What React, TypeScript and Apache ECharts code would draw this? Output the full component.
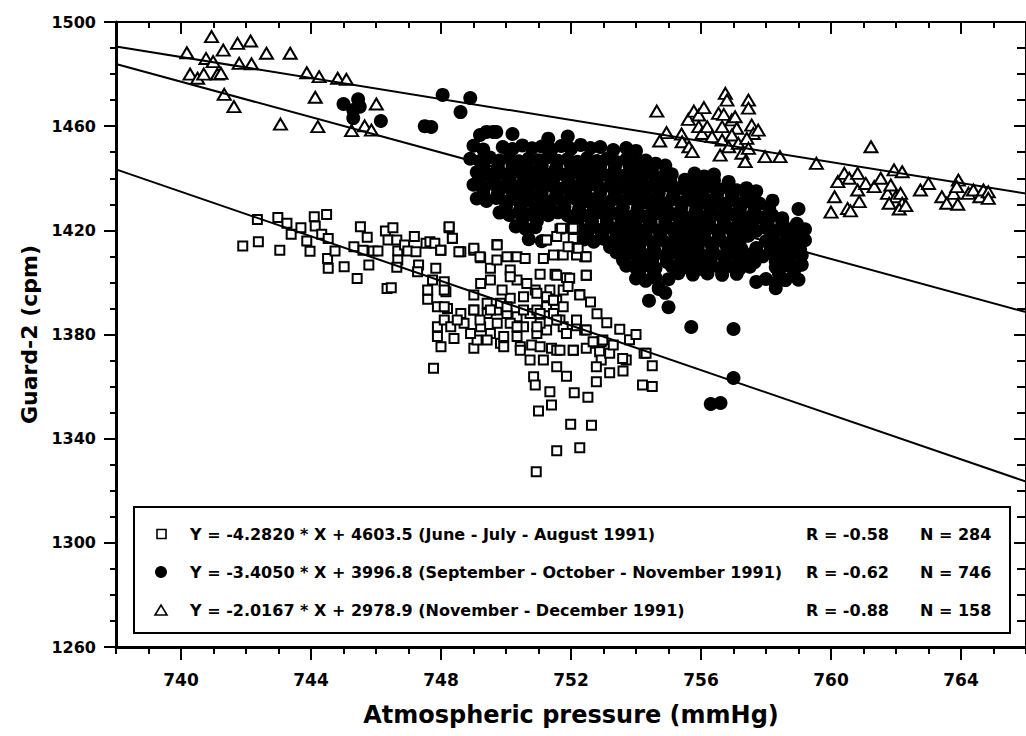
import React, { useEffect, useRef } from "react";
import * as echarts from "echarts";

// ---- axis ticks / labels ----
const xMajorTicks = [740, 744, 748, 752, 756, 760, 764];
const yMajorTicks = [1260, 1300, 1340, 1380, 1420, 1460, 1500];
const xName = "Atmospheric pressure (mmHg)";
const yName = "Guard-2 (cpm)";

// ---- June - July - August 1991 (open squares) ----
const squarePoints: number[][] = [
  [741.9, 1414.0], [742.38, 1415.6], [742.35, 1424.2], [742.98, 1424.9], [743.04, 1412.4], [743.26, 1422.7],
  [743.39, 1418.5], [743.69, 1421.0], [743.87, 1415.9], [743.97, 1412.0], [744.1, 1425.2], [744.13, 1421.7],
  [744.33, 1418.5], [744.48, 1426.1], [744.53, 1416.9], [744.51, 1409.2], [744.53, 1405.4], [744.74, 1412.1],
  [745.02, 1406.0], [745.32, 1413.7], [745.42, 1401.5], [745.52, 1421.4], [745.6, 1412.4], [745.73, 1417.3],
  [745.78, 1406.7], [745.91, 1412.1], [746.06, 1412.1], [746.34, 1397.7], [746.47, 1398.0], [746.29, 1419.7],
  [746.52, 1421.0], [746.37, 1416.3], [746.64, 1416.3], [746.67, 1412.1], [746.67, 1408.6], [746.64, 1405.8],
  [746.88, 1414.4], [746.98, 1412.1], [747.18, 1417.6], [747.23, 1411.8], [747.31, 1406.7], [747.28, 1404.1],
  [747.54, 1415.0], [747.66, 1415.6], [747.81, 1415.0], [747.84, 1405.4], [747.74, 1400.9], [748.0, 1412.4],
  [748.1, 1400.3], [748.15, 1396.4], [748.25, 1421.0], [748.35, 1416.9], [748.61, 1411.8], [749.01, 1412.4],
  [749.22, 1409.5], [749.72, 1414.6], [749.52, 1405.4], [749.72, 1408.6], [750.13, 1404.8], [750.34, 1409.9],
  [750.59, 1409.2], [751.15, 1409.2], [751.2, 1416.3], [751.66, 1420.5], [752.12, 1421.0], [752.07, 1416.9],
  [752.42, 1409.9], [751.46, 1410.5], [751.76, 1410.5], [752.17, 1410.5], [751.05, 1403.1], [751.51, 1403.1],
  [751.86, 1401.8], [752.47, 1402.8], [752.27, 1395.4], [751.76, 1397.1], [751.35, 1397.1], [750.9, 1397.1],
  [750.54, 1394.5], [750.13, 1393.9], [749.88, 1397.1], [749.52, 1400.9], [749.22, 1399.6], [749.01, 1395.2],
  [747.59, 1393.5], [747.89, 1390.7], [748.2, 1390.0], [748.61, 1388.1], [749.01, 1389.4], [749.42, 1388.1],
  [749.72, 1389.4], [750.03, 1388.1], [750.34, 1386.8], [750.74, 1388.1], [750.95, 1389.4], [751.25, 1390.7],
  [751.46, 1388.1], [751.66, 1385.6], [751.76, 1383.0], [752.17, 1383.4], [752.42, 1381.7], [752.78, 1376.6],
  [752.93, 1377.2], [752.88, 1373.4], [752.93, 1370.2], [752.78, 1367.6], [753.19, 1365.3], [752.78, 1361.9],
  [753.7, 1370.2], [754.25, 1372.8], [754.2, 1360.6], [752.47, 1374.7], [752.07, 1374.0], [751.4, 1374.7],
  [751.56, 1374.0], [751.15, 1370.2], [750.74, 1370.2], [750.85, 1363.8], [750.9, 1360.6], [751.35, 1358.0],
  [751.4, 1352.9], [751.0, 1350.6], [751.56, 1367.6], [751.86, 1364.0], [752.1, 1357.6], [752.52, 1355.9],
  [751.99, 1345.5], [752.63, 1345.2], [751.56, 1335.4], [752.27, 1336.5], [750.93, 1327.3], [747.77, 1367.0],
  [747.89, 1383.0], [747.89, 1379.2], [748.0, 1375.3], [748.4, 1378.5], [749.01, 1374.7], [749.11, 1377.9],
  [749.52, 1380.4], [749.83, 1376.6], [749.93, 1379.2], [750.34, 1379.2], [750.44, 1375.3], [750.79, 1376.0],
  [750.95, 1380.4], [747.59, 1397.1], [748.1, 1385.6], [748.3, 1383.0], [748.71, 1384.3], [749.22, 1383.0],
  [749.42, 1392.0], [749.83, 1392.0], [750.13, 1384.3], [750.54, 1383.0], [751.25, 1381.7], [751.86, 1380.4],
  [750.34, 1400.9], [750.64, 1399.6], [750.95, 1395.8], [751.25, 1394.5], [751.56, 1393.2], [751.76, 1390.7],
  [751.05, 1384.3], [748.25, 1421.4], [748.35, 1417.0], [747.99, 1412.4], [748.55, 1411.8], [749.01, 1413.1],
  [749.2, 1409.9], [749.73, 1414.4], [750.03, 1409.9], [751.25, 1416.3], [751.56, 1417.6], [751.71, 1420.8],
  [752.07, 1420.8], [751.91, 1413.7], [752.22, 1413.1], [752.47, 1409.9], [752.47, 1402.8], [752.27, 1395.2],
  [751.96, 1401.6], [751.56, 1402.8], [750.13, 1402.2], [751.46, 1393.2], [751.91, 1398.4], [752.17, 1385.6],
  [752.47, 1381.7], [752.68, 1377.2], [752.07, 1374.0], [751.66, 1374.0], [751.05, 1375.3], [750.44, 1374.0],
  [749.93, 1375.3], [749.42, 1377.9], [748.91, 1380.4], [748.5, 1385.6], [748.1, 1390.7], [748.1, 1397.1],
  [749.01, 1389.4], [749.52, 1389.4], [750.03, 1390.7], [750.54, 1389.4], [751.05, 1388.1], [751.56, 1385.6],
  [750.95, 1383.0], [750.34, 1383.0], [749.73, 1384.3], [749.2, 1385.6], [754.31, 1372.8], [753.59, 1370.8],
  [753.19, 1372.8], [752.98, 1377.9], [754.5, 1368.0], [754.5, 1360.0], [753.6, 1366.0], [753.3, 1376.0],
  [753.8, 1378.0], [753.5, 1382.0], [754.0, 1380.0], [753.1, 1384.5], [752.8, 1388.0], [752.6, 1392.5],
];

// ---- September - October - November 1991 (filled circles) ----
const circlePoints: number[][] = [
  [745.0, 1468.5], [745.45, 1470.3], [745.3, 1466.2], [745.3, 1463.1], [745.5, 1467.5], [746.15, 1462.0],
  [747.5, 1460.0], [747.7, 1459.7], [748.05, 1472.0], [748.9, 1470.8], [748.6, 1465.4], [749.2, 1456.6],
  [749.4, 1457.8], [749.7, 1457.8], [750.2, 1457.0],
  [749.6, 1457.8], [751.3, 1455.2], [751.9, 1456.0],
  [749.0, 1452.5], [749.3, 1451.0], [749.9, 1452.0], [750.2, 1451.2], [750.5, 1452.6], [750.8, 1451.5],
  [751.1, 1452.2], [751.4, 1451.0], [751.7, 1452.4], [752.0, 1451.3], [752.3, 1452.8], [752.6, 1451.6],
  [752.9, 1452.0], [753.3, 1450.8], [753.7, 1451.6], [754.0, 1450.5],
  [748.9, 1447.5], [749.2, 1446.6], [749.5, 1448.0], [749.8, 1446.8], [750.1, 1447.9], [750.4, 1446.5],
  [750.7, 1447.6], [751.0, 1446.9], [751.3, 1448.1], [751.6, 1446.7], [751.9, 1447.4], [752.2, 1446.3],
  [752.5, 1447.8], [752.8, 1446.6], [753.1, 1447.5], [753.4, 1446.2], [753.7, 1447.3], [754.0, 1446.0],
  [754.3, 1446.8], [754.6, 1445.6], [754.9, 1444.9],
  [749.3, 1444.6], [749.75, 1444.2], [750.2, 1444.8], [750.65, 1444.1], [751.1, 1444.7], [751.55, 1444.3],
  [752.0, 1444.9], [752.45, 1444.0], [752.9, 1444.6], [753.35, 1444.2], [753.8, 1444.7], [754.25, 1443.9],
  [749.1, 1442.3], [749.4, 1441.5], [749.7, 1442.6], [750.0, 1441.4], [750.3, 1442.5], [750.6, 1441.2],
  [750.9, 1442.4], [751.2, 1441.6], [751.5, 1442.8], [751.8, 1441.3], [752.1, 1442.2], [752.4, 1441.0],
  [752.7, 1442.5], [753.0, 1441.4], [753.3, 1442.1], [753.6, 1440.9], [753.9, 1442.0], [754.2, 1441.1],
  [754.5, 1441.9], [754.8, 1440.6], [755.1, 1441.5], [755.8, 1441.8], [756.1, 1440.7], [756.4, 1441.4],
  [749.2, 1439.6], [749.65, 1439.2], [750.1, 1439.8], [750.55, 1439.1], [751.0, 1439.7], [751.45, 1439.3],
  [751.9, 1439.9], [752.35, 1439.0], [752.8, 1439.6], [753.25, 1439.2], [753.7, 1439.7], [754.15, 1439.0],
  [754.6, 1439.5], [755.05, 1438.9], [755.5, 1439.4], [755.95, 1438.8], [756.4, 1439.2], [756.85, 1438.6],
  [749.0, 1437.5], [749.3, 1436.4], [749.6, 1437.8], [749.9, 1436.6], [750.2, 1437.4], [750.5, 1436.2],
  [750.8, 1437.6], [751.1, 1436.5], [751.4, 1437.2], [751.7, 1436.0], [752.0, 1437.3], [752.3, 1436.4],
  [752.6, 1437.6], [752.9, 1436.1], [753.2, 1437.0], [753.5, 1436.3], [753.8, 1437.4], [754.1, 1436.0],
  [754.4, 1436.9], [754.7, 1435.8], [755.0, 1437.1], [755.3, 1436.2], [755.6, 1437.3], [755.9, 1436.1],
  [756.2, 1436.8], [756.5, 1435.9], [756.8, 1436.5], [757.1, 1435.4], [757.4, 1436.2], [757.7, 1435.0],
  [749.3, 1434.5], [749.75, 1434.1], [750.2, 1434.6], [750.65, 1434.0], [751.1, 1434.4], [751.55, 1433.9],
  [752.0, 1434.6], [752.45, 1434.0], [752.9, 1434.3], [753.35, 1433.8], [753.8, 1434.5], [754.25, 1433.7],
  [754.7, 1434.2], [755.15, 1433.6], [755.6, 1434.1], [756.05, 1433.5], [756.5, 1434.0], [756.95, 1433.4],
  [757.4, 1433.8],
  [749.1, 1432.2], [749.4, 1431.3], [749.7, 1432.4], [750.0, 1431.1], [750.3, 1432.0], [750.6, 1431.4],
  [750.9, 1432.6], [751.2, 1431.2], [751.5, 1432.1], [751.8, 1430.9], [752.1, 1432.3], [752.4, 1431.0],
  [752.7, 1431.8], [753.0, 1430.8], [753.3, 1432.0], [753.6, 1431.2], [753.9, 1432.2], [754.2, 1430.9],
  [754.5, 1431.7], [754.8, 1430.6], [755.1, 1431.9], [755.4, 1430.7], [755.7, 1431.6], [756.0, 1430.4],
  [756.3, 1431.5], [756.6, 1430.6], [756.9, 1431.3], [757.2, 1430.2], [757.5, 1431.0], [757.8, 1430.3],
  [758.2, 1431.4],
  [750.0, 1429.2], [750.45, 1428.7], [750.9, 1429.3], [751.35, 1428.6], [751.8, 1429.1], [752.25, 1428.5],
  [752.7, 1429.0], [753.15, 1428.4], [753.6, 1428.9], [754.05, 1428.3], [754.5, 1428.8], [754.95, 1428.2],
  [755.4, 1428.7], [755.85, 1428.1], [756.3, 1428.6], [756.75, 1428.0], [757.2, 1428.5], [757.65, 1427.9],
  [758.1, 1428.3],
  [749.8, 1426.8], [750.1, 1425.9], [750.4, 1427.0], [750.7, 1426.2], [751.0, 1427.1], [751.3, 1425.8],
  [751.6, 1426.9], [751.9, 1425.7], [752.2, 1426.6], [752.5, 1425.5], [752.8, 1426.8], [753.1, 1425.6],
  [753.4, 1426.5], [753.7, 1425.4], [754.0, 1426.3], [754.3, 1425.2], [754.6, 1426.4], [754.9, 1425.3],
  [755.2, 1426.1], [755.5, 1425.0], [755.8, 1426.2], [756.1, 1425.1], [756.4, 1426.0], [756.7, 1424.9],
  [757.0, 1426.1], [757.3, 1425.2], [757.6, 1426.0], [757.9, 1424.8], [758.2, 1425.7], [758.5, 1424.6],
  [759.0, 1428.2],
  [750.5, 1423.9], [750.95, 1423.5], [752.2, 1423.8], [752.65, 1423.2], [753.1, 1423.7], [753.55, 1423.1],
  [754.0, 1423.6], [754.45, 1423.0], [754.9, 1423.5], [755.35, 1422.9], [755.8, 1423.4], [756.25, 1422.8],
  [756.7, 1423.3], [757.15, 1422.7], [757.6, 1423.2], [758.05, 1422.6], [758.5, 1423.0], [758.95, 1422.5],
  [750.3, 1421.5], [750.6, 1420.6], [750.9, 1421.2], [752.0, 1421.0], [752.3, 1420.3], [752.6, 1421.4],
  [752.9, 1420.1], [753.2, 1421.2], [753.5, 1420.4], [753.8, 1421.5], [754.1, 1420.2], [754.4, 1421.3],
  [754.7, 1420.0], [755.0, 1421.1], [755.3, 1420.3], [755.6, 1421.4], [755.9, 1420.1], [756.2, 1421.0],
  [756.5, 1419.9], [756.8, 1421.2], [757.1, 1420.0], [757.4, 1421.0], [757.7, 1419.8], [758.0, 1420.9],
  [758.3, 1419.7], [758.6, 1420.8], [758.9, 1419.6], [759.2, 1420.4],
  [752.5, 1418.7], [752.95, 1418.2], [753.4, 1418.8], [753.85, 1418.1], [754.3, 1418.6], [754.75, 1418.0],
  [755.2, 1418.5], [755.65, 1417.9], [756.1, 1418.4], [756.55, 1417.8], [757.0, 1418.3], [757.45, 1417.9],
  [758.2, 1418.2], [758.65, 1417.7], [759.1, 1418.1],
  [750.7, 1416.6], [751.1, 1415.8], [752.4, 1416.5], [752.7, 1415.6], [753.0, 1416.8], [753.3, 1415.5],
  [753.6, 1416.4], [753.9, 1415.3], [754.2, 1416.6], [754.5, 1415.4], [754.8, 1416.3], [755.1, 1415.2],
  [755.4, 1416.5], [755.7, 1415.1], [756.0, 1416.2], [756.3, 1415.0], [756.6, 1416.1], [756.9, 1415.3],
  [757.2, 1416.0], [758.0, 1415.8], [758.3, 1414.9], [758.6, 1416.0], [758.9, 1415.1], [759.2, 1416.2],
  [753.2, 1413.6], [753.65, 1413.1], [754.1, 1413.7], [754.55, 1413.0], [755.0, 1413.5], [755.45, 1412.9],
  [755.9, 1413.4], [756.35, 1412.8], [756.8, 1413.3], [757.25, 1412.7], [757.7, 1413.2], [758.15, 1412.6],
  [758.6, 1413.1], [759.05, 1412.5],
  [753.4, 1411.5], [753.7, 1410.6], [754.0, 1411.6], [754.3, 1410.4], [754.6, 1411.3], [754.9, 1410.2],
  [755.2, 1411.4], [755.5, 1410.3], [755.8, 1411.2], [756.1, 1410.1], [756.4, 1411.0], [756.7, 1410.0],
  [757.0, 1411.3], [757.3, 1410.2], [757.6, 1411.1], [757.9, 1410.0], [758.2, 1411.0], [758.5, 1410.1],
  [758.8, 1411.2], [759.1, 1410.4],
  [753.6, 1408.5], [754.05, 1408.0], [754.5, 1408.6], [754.95, 1407.9], [755.4, 1408.4], [755.85, 1407.8],
  [756.3, 1408.3], [756.75, 1407.7], [757.2, 1408.2], [757.65, 1407.8], [758.3, 1408.1], [758.75, 1407.6],
  [753.7, 1406.4], [754.0, 1405.5], [754.3, 1406.6], [754.6, 1405.4], [755.1, 1406.2], [755.4, 1405.3],
  [755.7, 1406.4], [756.0, 1405.2], [756.3, 1406.1], [756.6, 1405.5], [756.9, 1406.3], [757.2, 1405.4],
  [757.5, 1406.0], [758.3, 1405.8], [758.6, 1406.5], [758.9, 1405.4], [759.1, 1406.8],
  [754.1, 1403.6], [754.55, 1403.2], [755.3, 1403.5], [755.75, 1403.0], [756.2, 1403.4], [756.65, 1402.9],
  [757.1, 1403.3], [758.4, 1403.2], [758.85, 1402.8],
  [754.0, 1401.5], [754.3, 1400.6], [754.6, 1401.8], [755.0, 1401.2], [757.7, 1400.2], [758.0, 1401.3],
  [758.3, 1399.8], [758.6, 1400.9], [759.0, 1401.0],
  [754.7, 1397.5], [758.3, 1397.8], [754.4, 1393.0], [754.7, 1398.0], [754.9, 1396.0], [755.0, 1390.5],
  [755.7, 1382.9], [757.0, 1382.1], [756.3, 1353.3], [756.6, 1353.7], [757.0, 1363.3],
];

// ---- November - December 1991 (open triangles) ----
const trianglePoints: number[][] = [
  [740.18, 1488.2], [740.94, 1494.4], [740.77, 1486.0], [740.99, 1484.8], [741.3, 1489.2], [741.74, 1491.8],
  [742.14, 1492.7], [741.79, 1484.1], [742.17, 1483.9], [742.63, 1488.0], [743.36, 1488.0], [740.28, 1480.0],
  [740.51, 1478.4], [740.7, 1480.0], [741.12, 1480.0], [741.23, 1480.3], [741.33, 1472.2], [741.63, 1467.5],
  [743.06, 1460.8], [743.87, 1480.5], [744.25, 1479.0], [744.82, 1478.4], [745.09, 1478.0], [744.13, 1471.1],
  [744.21, 1459.8], [746.01, 1468.5], [745.25, 1458.3], [745.65, 1460.1], [745.86, 1458.5],
  [754.64, 1465.8], [754.94, 1457.5], [754.73, 1454.3], [755.4, 1457.0], [755.42, 1454.0], [755.61, 1462.6],
  [755.78, 1465.8], [755.93, 1464.3], [756.09, 1467.1], [755.93, 1459.8], [755.63, 1452.1], [755.73, 1450.2],
  [756.03, 1457.2], [756.19, 1459.8], [756.34, 1456.0], [756.54, 1464.9], [756.7, 1464.5], [756.75, 1472.6],
  [756.8, 1470.0], [756.65, 1459.8], [756.65, 1454.7], [756.59, 1448.9], [756.85, 1452.1], [756.95, 1462.4],
  [757.05, 1463.6], [757.1, 1459.2], [756.95, 1456.6], [757.15, 1453.4], [757.26, 1449.6], [757.36, 1446.4],
  [757.46, 1470.0], [757.46, 1466.9], [757.56, 1460.4], [757.61, 1457.2], [757.41, 1455.3], [757.76, 1458.5],
  [757.46, 1451.5], [757.97, 1448.3], [758.43, 1448.3], [759.55, 1445.7], [761.23, 1452.1], [760.21, 1438.7],
  [760.11, 1432.9], [760.41, 1441.9], [760.56, 1440.0], [760.82, 1441.9], [760.82, 1435.5], [760.87, 1431.0],
  [761.07, 1438.0], [760.51, 1428.4], [761.33, 1436.8], [761.53, 1440.0], [761.74, 1434.2], [761.84, 1437.4],
  [761.94, 1443.2], [762.19, 1442.5], [761.99, 1432.9], [762.14, 1434.2], [762.19, 1430.4], [761.79, 1430.4],
  [762.75, 1435.5], [763.0, 1438.0], [763.41, 1432.9], [763.56, 1430.4], [763.77, 1434.2], [763.92, 1439.3],
  [763.87, 1436.8], [764.23, 1434.2], [764.38, 1435.5], [764.58, 1432.9], [764.69, 1435.5], [764.84, 1434.8],
  [764.84, 1432.3], [762.1, 1428.2], [762.3, 1429.5], [760.0, 1427.0], [760.6, 1427.5], [763.9, 1430.0],
];

// ---- regression lines (end points read at the plot edges) ----
const fitSquares = [[738, 1443.4], [766, 1323.5]];
const fitCircles = [[738, 1483.9], [766, 1388.6]];
const fitTriangles = [[738, 1490.6], [766, 1434.1]];

// ---- legend box texts ----
const legendEquations = [
  "Y = -4.2820 * X + 4603.5 (June - July - August 1991)",
  "Y = -3.4050 * X + 3996.8 (September - October - November 1991)",
  "Y = -2.0167 * X + 2978.9 (November - December 1991)",
];
const legendR = ["R = -0.58", "R = -0.62", "R = -0.88"];
const legendN = ["N = 284", "N = 746", "N = 158"];

const FONT = "DejaVu Sans";

export default function App() {
  const ref = useRef<HTMLDivElement>(null);

  useEffect(() => {
    if (!ref.current) return;
    const chart = echarts.init(ref.current, undefined, { renderer: "svg" });

    const gridRect = { left: 116, top: 22, width: 917, height: 625 };
    const rowY = [534, 572, 610];
    const legendGraphics: any[] = [
      {
        type: "rect",
        shape: { x: 134, y: 507, width: 876, height: 126 },
        style: { fill: "#fff", stroke: "#000", lineWidth: 2 },
        z: 100,
      },
    ];
    rowY.forEach((y, i) => {
      if (i === 0) {
        legendGraphics.push({
          type: "rect",
          shape: { x: 157, y: y - 4.5, width: 9, height: 9 },
          style: { fill: "#fff", stroke: "#000", lineWidth: 1.6 },
          z: 101,
        });
      } else if (i === 1) {
        legendGraphics.push({
          type: "circle",
          shape: { cx: 161, cy: y, r: 6 },
          style: { fill: "#000" },
          z: 101,
        });
      } else {
        legendGraphics.push({
          type: "polygon",
          shape: { points: [[155, y + 5], [167, y + 5], [161, y - 5]] },
          style: { fill: "#fff", stroke: "#000", lineWidth: 1.6 },
          z: 101,
        });
      }
      const textStyle = {
        fill: "#000",
        fontFamily: FONT,
        fontWeight: "bold",
        fontSize: 16,
        verticalAlign: "middle",
      };
      legendGraphics.push({ type: "text", x: 190, y, z: 101, style: { ...textStyle, text: legendEquations[i] } });
      legendGraphics.push({ type: "text", x: 806, y, z: 101, style: { ...textStyle, text: legendR[i] } });
      legendGraphics.push({ type: "text", x: 920, y, z: 101, style: { ...textStyle, text: legendN[i] } });
    });

    const plain = (v: number) => String(v);
    const tickLabel = { fontFamily: FONT, fontWeight: "bold", color: "#000", formatter: plain };
    const hiddenLabels = { show: false };

    const option: any = {
      animation: false,
      backgroundColor: "#fff",
      grid: [
        { ...gridRect, containLabel: false },
        { ...gridRect, containLabel: false },
      ],
      xAxis: [
        {
          type: "value", gridIndex: 0, position: "bottom", min: 738, max: 766, interval: 1,
          name: xName, nameLocation: "middle", nameGap: 56,
          nameTextStyle: { fontFamily: FONT, fontWeight: "bold", fontSize: 24, color: "#000" },
          axisLine: { show: true, lineStyle: { color: "#000", width: 3 } },
          axisTick: { show: true, inside: false, length: 13, customValues: xMajorTicks, lineStyle: { color: "#000", width: 2 } },
          axisLabel: { ...tickLabel, fontSize: 17, margin: 24, customValues: xMajorTicks },
          splitLine: { show: false },
        },
        {
          type: "value", gridIndex: 0, position: "top", min: 738, max: 766, interval: 1,
          axisLine: { show: true, lineStyle: { color: "#000", width: 2 } },
          axisTick: { show: true, inside: true, length: 12, customValues: xMajorTicks, lineStyle: { color: "#000", width: 2 } },
          axisLabel: hiddenLabels,
          splitLine: { show: false },
        },
        {
          type: "value", gridIndex: 1, position: "bottom", min: 738, max: 766, interval: 1,
          axisLine: { show: false },
          axisTick: { show: true, inside: false, length: 7, lineStyle: { color: "#000", width: 2 } },
          axisLabel: hiddenLabels,
          splitLine: { show: false },
        },
        {
          type: "value", gridIndex: 1, position: "top", min: 738, max: 766, interval: 1,
          axisLine: { show: false },
          axisTick: { show: true, inside: true, length: 6, lineStyle: { color: "#000", width: 2 } },
          axisLabel: hiddenLabels,
          splitLine: { show: false },
        },
      ],
      yAxis: [
        {
          type: "value", gridIndex: 0, position: "left", min: 1260, max: 1500, interval: 10,
          name: yName, nameLocation: "middle", nameGap: 76, nameRotate: 90,
          nameTextStyle: { fontFamily: FONT, fontWeight: "bold", fontSize: 22, color: "#000" },
          axisLine: { show: true, lineStyle: { color: "#000", width: 3 } },
          axisTick: { show: true, inside: false, length: 12, customValues: yMajorTicks, lineStyle: { color: "#000", width: 2 } },
          axisLabel: { ...tickLabel, fontSize: 16, margin: 20, customValues: yMajorTicks },
          splitLine: { show: false },
        },
        {
          type: "value", gridIndex: 0, position: "right", min: 1260, max: 1500, interval: 10,
          axisLine: { show: true, lineStyle: { color: "#000", width: 2 } },
          axisTick: { show: true, inside: true, length: 12, customValues: yMajorTicks, lineStyle: { color: "#000", width: 2 } },
          axisLabel: hiddenLabels,
          splitLine: { show: false },
        },
        {
          type: "value", gridIndex: 1, position: "left", min: 1260, max: 1500, interval: 10,
          axisLine: { show: false },
          axisTick: { show: true, inside: false, length: 6, lineStyle: { color: "#000", width: 2 } },
          axisLabel: hiddenLabels,
          splitLine: { show: false },
        },
        {
          type: "value", gridIndex: 1, position: "right", min: 1260, max: 1500, interval: 10,
          axisLine: { show: false },
          axisTick: { show: true, inside: true, length: 9, lineStyle: { color: "#000", width: 2 } },
          axisLabel: hiddenLabels,
          splitLine: { show: false },
        },
      ],
      series: [
        {
          name: "Sep-Oct-Nov 1991", type: "scatter", xAxisIndex: 0, yAxisIndex: 0,
          data: circlePoints, symbol: "circle", symbolSize: 14, silent: true,
          itemStyle: { color: "#000", opacity: 1 },
        },
        {
          name: "Jun-Jul-Aug 1991", type: "scatter", xAxisIndex: 0, yAxisIndex: 0,
          data: squarePoints, symbol: "rect", symbolSize: 9, silent: true,
          itemStyle: { color: "#fff", borderColor: "#000", borderWidth: 2, opacity: 1 },
        },
        {
          name: "Nov-Dec 1991", type: "scatter", xAxisIndex: 0, yAxisIndex: 0,
          data: trianglePoints, symbol: "triangle", symbolSize: [13, 11], silent: true,
          itemStyle: { color: "#fff", borderColor: "#000", borderWidth: 2, opacity: 1 },
        },
        ...[fitSquares, fitCircles, fitTriangles].map((d) => ({
          type: "line", xAxisIndex: 0, yAxisIndex: 0, data: d, showSymbol: false, symbol: "none",
          silent: true, lineStyle: { color: "#000", width: 2 }, z: 5,
        })),
      ],
      graphic: legendGraphics,
    };

    chart.setOption(option);
    return () => chart.dispose();
  }, []);

  return (
    <div
      ref={ref}
      style={{ position: "absolute", left: 0, top: 0, width: 1026, height: 736, background: "#fff" }}
    />
  );
}
